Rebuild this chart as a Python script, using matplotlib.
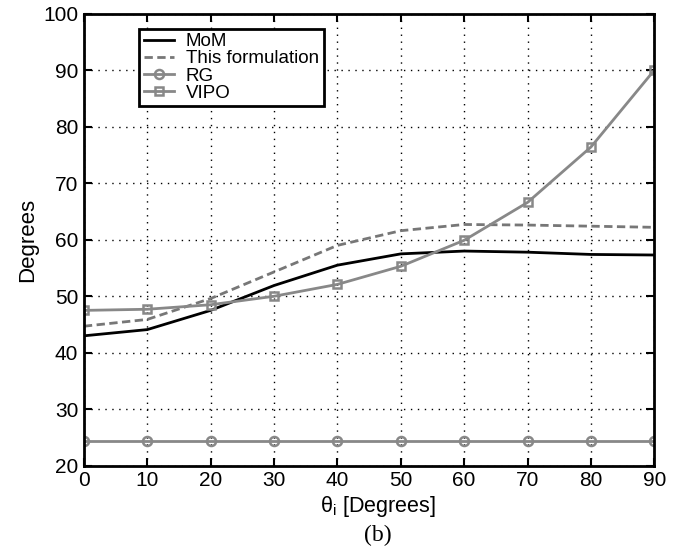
import matplotlib
matplotlib.use('Agg')
import matplotlib.pyplot as plt

plt.rcParams['font.family'] = ['Liberation Sans', 'DejaVu Sans']
plt.rcParams['mathtext.fontset'] = 'custom'
plt.rcParams['mathtext.rm'] = 'Liberation Sans'

# incidence angle (degrees)
theta = [0, 10, 20, 30, 40, 50, 60, 70, 80, 90]

# curves
mom = [43.0, 44.1, 47.5, 51.9, 55.5, 57.5, 58.0, 57.8, 57.4, 57.3]
this_form = [44.7, 45.9, 49.6, 54.3, 59.0, 61.6, 62.7, 62.6, 62.4, 62.2]
rg = [24.3, 24.3, 24.3, 24.3, 24.3, 24.3, 24.3, 24.3, 24.3, 24.3]
vipo = [47.5, 47.7, 48.5, 50.0, 52.1, 55.3, 59.9, 66.6, 76.4, 90.0]

xticks = [0, 10, 20, 30, 40, 50, 60, 70, 80, 90]
yticks = [20, 30, 40, 50, 60, 70, 80, 90, 100]

fig = plt.figure(figsize=(6.99, 5.48), dpi=100)
ax = fig.add_axes([0.120, 0.150, 0.816, 0.825])

ax.plot(theta, mom, color='black', lw=2, label='MoM')
ax.plot(theta, this_form, color='#777777', lw=2, ls=(0, (3, 1.6)), label='This formulation')
ax.plot(theta, rg, color='#888888', lw=2, marker='o', ms=6.5, mfc='none', mew=1.8,
        label='RG')
ax.plot(theta, vipo, color='#888888', lw=2, marker='s', ms=5.5, mfc='none', mew=1.8,
        label='VIPO')

ax.set_xlim(0, 90)
ax.set_ylim(20, 100)
ax.set_xticks(xticks)
ax.set_yticks(yticks)
ax.tick_params(direction='in', length=6, width=1.5, labelsize=15, top=True, right=True,
               pad=4)
ax.grid(True, color='black', ls=(0, (1, 4)), lw=1)
for s in ax.spines.values():
    s.set_linewidth(2)

ax.set_xlabel('θ$_\\mathrm{i}$ [Degrees]', fontsize=15.5)
ax.xaxis.set_label_coords(0.516, -0.062)
ax.set_ylabel('Degrees', fontsize=16, labelpad=4)

leg = ax.legend(loc='upper left', bbox_to_anchor=(0.08, 0.988), fontsize=13.5,
                handlelength=1.6, handletextpad=0.65, borderpad=0.25,
                labelspacing=0.0, fancybox=False, framealpha=1)
leg.get_frame().set_edgecolor('black')
leg.get_frame().set_linewidth(2)

fig.text(0.541, 0.003, '(b)', family='Liberation Serif', fontsize=17, ha='center',
         va='bottom')

fig.savefig('out.png', dpi=100)
